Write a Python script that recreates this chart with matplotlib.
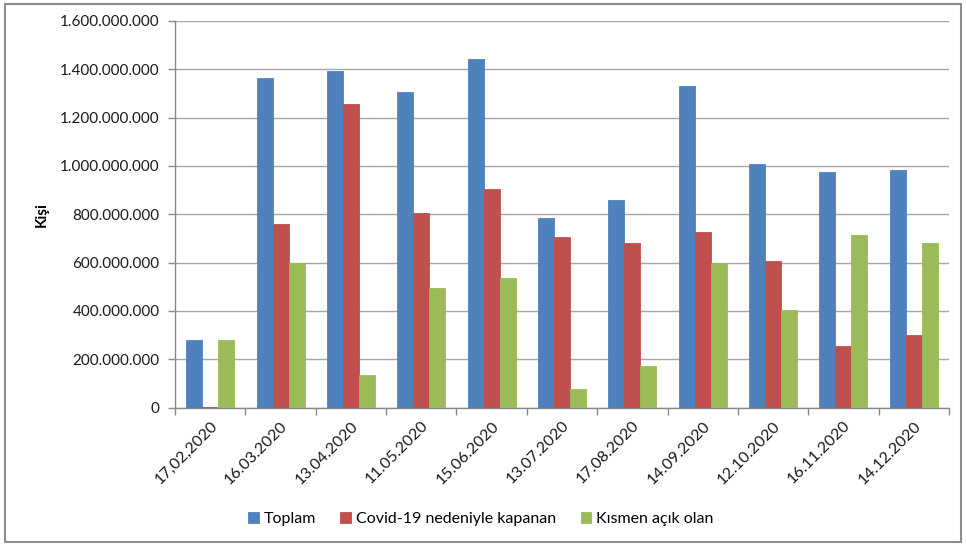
import matplotlib
matplotlib.use("Agg")
import matplotlib.pyplot as plt
import numpy as np
from matplotlib.ticker import FuncFormatter, MultipleLocator
from matplotlib.patches import Rectangle

dates = ["17,02,2020", "16.03.2020", "13.04.2020", "11.05.2020", "15.06.2020",
         "13.07.2020", "17.08.2020", "14.09.2020", "12.10.2020", "16.11.2020", "14.12.2020"]
toplam = [278e6, 1364e6, 1393e6, 1306e6, 1442e6, 786e6, 858e6, 1331e6, 1009e6, 974e6, 985e6]
covid = [3e6, 761e6, 1258e6, 807e6, 905e6, 706e6, 681e6, 727e6, 605e6, 255e6, 301e6]
kismen = [278e6, 600e6, 135e6, 495e6, 536e6, 77e6, 172e6, 600e6, 403e6, 716e6, 681e6]
series_names = ["Toplam", "Covid-19 nedeniyle kapanan", "Kısmen açık olan"]
colors = ["#4F81BD", "#C0504D", "#9BBB59"]

plt.rcParams['font.family'] = ['Lato', 'DejaVu Sans']

W, H = 967, 545
fig = plt.figure(figsize=(W / 100, H / 100), dpi=100)
ax = fig.add_axes([175 / W, 1 - 407.5 / H, (949 - 175) / W, (407.5 - 21) / H])

x = np.arange(len(dates))
bw = 0.227
for i, (vals, name, c) in enumerate(zip([toplam, covid, kismen], series_names, colors)):
    ax.bar(x + (i - 1) * bw, vals, width=bw, color=c, label=name,
           edgecolor=c, linewidth=0.6, zorder=3)

ax.set_xlim(-0.5, len(dates) - 0.5)
ax.set_ylim(0, 1.6e9)
ax.yaxis.set_major_locator(MultipleLocator(2e8))
ax.yaxis.set_major_formatter(FuncFormatter(lambda v, p: f"{int(round(v)):,}".replace(",", ".")))
ax.grid(axis='y', color='#A6A6A6', linewidth=1, zorder=0)

ax.set_xticks(x)
ax.set_xticklabels(dates, rotation=45, ha='right', va='top', rotation_mode='anchor', fontsize=11.5, color='#1a1a1a')
ax.set_xticks(np.arange(-0.5, len(dates)), minor=True)
ax.tick_params(axis='x', which='major', length=0, pad=8)
ax.tick_params(axis='x', which='minor', length=5, color='#888888', width=1)
ax.tick_params(axis='y', length=5, color='#888888', width=1, labelsize=11, labelcolor='#1a1a1a', pad=6)

for s in ['top', 'right']:
    ax.spines[s].set_visible(False)
for s in ['left', 'bottom']:
    ax.spines[s].set_color('#888888')
    ax.spines[s].set_linewidth(1)

fig.text(42 / W, 1 - 215 / H, "Kişi", rotation=90, fontsize=11, fontweight='bold',
         ha='center', va='center')

fig.legend(loc='center', bbox_to_anchor=(481 / W, 1 - 519 / H), ncol=3, frameon=False,
           handlelength=0.65, handleheight=0.65, handletextpad=0.35, columnspacing=1.5,
           fontsize=11.5)

fig.patches.append(Rectangle((5 / W, 3 / H), (961 - 5) / W, (541 - 3) / H, transform=fig.transFigure,
                             fill=False, edgecolor='#8C8C8C', linewidth=1.5))

fig.savefig("out.png", dpi=100)
